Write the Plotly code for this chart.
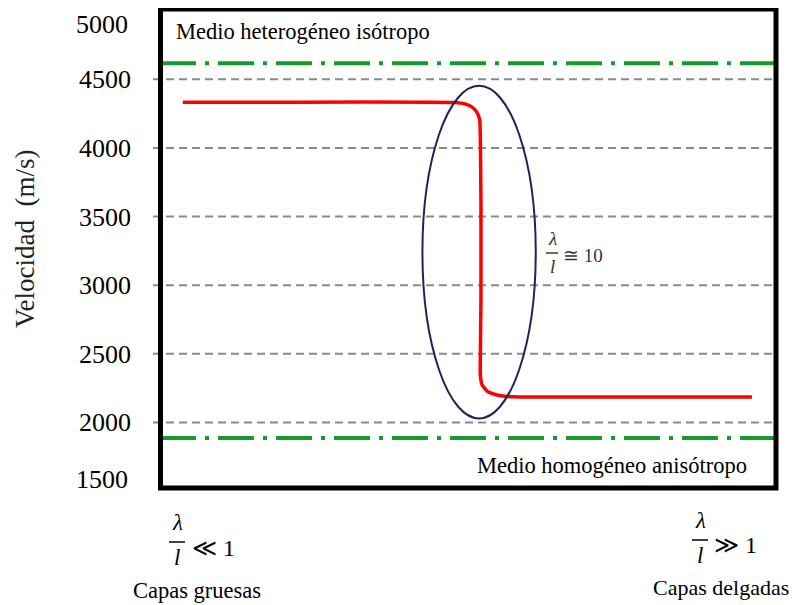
import plotly.graph_objects as go

# ---------------- data ----------------
Y_TICKS = [1500, 2000, 2500, 3000, 3500, 4000, 4500, 5000]
Y_TICK_TEXT = ["1500", "2000", "2500", "3000", "3500", "4000", "4500", "5000"]
GRID_VALUES = [2000, 2500, 3000, 3500, 4000, 4500]

# relative lambda/l axis (0 = thick layers, 100 = thin layers)
RED_X = [3.7, 22.7, 43.8, 47.9, 49.5, 50.6, 51.4, 51.9, 52.0, 52.1, 52.1,
         52.0, 52.0, 52.3, 53.1, 54.4, 56.0, 58.4, 71.4, 96.1]
RED_Y = [4334, 4334, 4334, 4332, 4321, 4299, 4263, 4205, 4095, 3621, 2891,
         2454, 2345, 2272, 2228, 2203, 2190, 2185, 2185, 2185]

HETERO_ISO = 4618   # Medio heterogéneo isótropo
HOMO_ANISO = 1886   # Medio homogéneo anisótropo
LEVEL_X = [0, 100]

ELLIPSE_X = [42.6, 61.0]
ELLIPSE_Y = [2029, 4453]

Y_RANGE = [1500, 5020]
X_RANGE = [0, 100]

# ---------------- layout helpers ----------------
OFF = 8                      # page body margin
W, H = 798 - OFF, 605 - OFF
PL, PR, PT, PB = 160, 776, 8, 491   # plot area in screen pixels


def px(x):
    return (x - PL) / (PR - PL)


def py(y):
    return (PB - y) / (PB - PT)


SERIF = "Liberation Serif"
fig = go.Figure()

fig.add_trace(go.Scatter(x=LEVEL_X, y=[HETERO_ISO, HETERO_ISO], mode="lines",
                         line=dict(color="#169a2c", width=4, dash="36px,9px,4px,9px"),
                         hoverinfo="skip", showlegend=False))
fig.add_trace(go.Scatter(x=LEVEL_X, y=[HOMO_ANISO, HOMO_ANISO], mode="lines",
                         line=dict(color="#169a2c", width=4, dash="36px,9px,4px,9px"),
                         hoverinfo="skip", showlegend=False))
fig.add_trace(go.Scatter(x=RED_X, y=RED_Y, mode="lines",
                         line=dict(color="#ff0000", width=3.5, shape="spline", smoothing=0.4),
                         hoverinfo="skip", showlegend=False))

shapes = []
for g in GRID_VALUES:
    shapes.append(dict(type="line", xref="paper", yref="y", x0=px(153), x1=1, y0=g, y1=g,
                       line=dict(color="#8a8a8a", width=2, dash="8px,5px"), layer="below"))
shapes.append(dict(type="circle", xref="x", yref="y", x0=ELLIPSE_X[0], x1=ELLIPSE_X[1],
                   y0=ELLIPSE_Y[0], y1=ELLIPSE_Y[1], line=dict(color="#1b2657", width=2)))
# frame
shapes.append(dict(type="rect", xref="paper", yref="paper", x0=px(160.5), x1=px(776),
                   y0=py(488), y1=py(9), line=dict(color="black", width=5)))

annotations = []


def txt(x, y, s, size, xanchor="center", italic=False, color="black", font=SERIF, angle=0):
    annotations.append(dict(xref="paper", yref="paper", x=px(x), y=py(y), text=s,
                            showarrow=False, xanchor=xanchor, yanchor="middle",
                            textangle=angle,
                            font=dict(family=font, size=size, color=color,
                                      style="italic" if italic else "normal")))


def frac(x, y, size, up, down, half, color="black"):
    # lambda over l, centred on x, bar at y
    txt(x, y - up, "λ", size, italic=True, color=color)
    txt(x, y + down, "l", size, italic=True, color=color)
    shapes.append(dict(type="line", xref="paper", yref="paper", x0=px(x - half), x1=px(x + half),
                       y0=py(y), y1=py(y), line=dict(color=color, width=1.5)))


# outermost tick labels sit slightly inside the frame, as in the original figure
annotations.append(dict(xref="paper", yref="y", x=px(130), y=Y_TICKS[0], yshift=12,
                        text=Y_TICK_TEXT[0], showarrow=False, xanchor="right", yanchor="middle",
                        font=dict(family=SERIF, size=26, color="black")))
annotations.append(dict(xref="paper", yref="y", x=px(130), y=Y_TICKS[-1], yshift=3,
                        text=Y_TICK_TEXT[-1], showarrow=False, xanchor="right", yanchor="top",
                        font=dict(family=SERIF, size=26, color="black")))

txt(25, 239, "Velocidad  (m/s)", 27, angle=-90, color="#222222")

txt(174, 31, "Medio heterogéneo isótropo", 22.5, xanchor="left")
txt(749, 465, "Medio homogéneo anisótropo", 22.5, xanchor="right")

frac(552, 253, 19, 15, 13, 6, color="#333333")
txt(561, 255, "≅ 10", 19, xanchor="left", color="#333333")

frac(177, 542, 23, 20, 15, 8)
txt(190, 548, "≪ 1", 24, xanchor="left")
txt(197, 590, "Capas gruesas", 22.5)

frac(700, 540, 23, 20, 15, 8)
txt(712, 545, "≫ 1", 24, xanchor="left")
txt(721, 587, "Capas delgadas", 22)

fig.update_layout(
    width=W, height=H,
    margin=dict(l=PL - OFF, r=798 - PR, t=PT - OFF, b=605 - PB, pad=0, autoexpand=False),
    paper_bgcolor="white", plot_bgcolor="white",
    showlegend=False,
    shapes=shapes, annotations=annotations,
    xaxis=dict(range=X_RANGE, showgrid=False, zeroline=False, showticklabels=False,
               ticks="", showline=False, fixedrange=True, automargin=False),
    yaxis=dict(range=Y_RANGE, tickvals=Y_TICKS[1:-1], ticktext=Y_TICK_TEXT[1:-1],
               showgrid=False, zeroline=False, ticks="", showline=False,
               ticklabelstandoff=28, ticklabeloverflow="allow", automargin=False,
               tickfont=dict(family=SERIF, size=26, color="black"), fixedrange=True),
)

fig.write_html("out.html")
